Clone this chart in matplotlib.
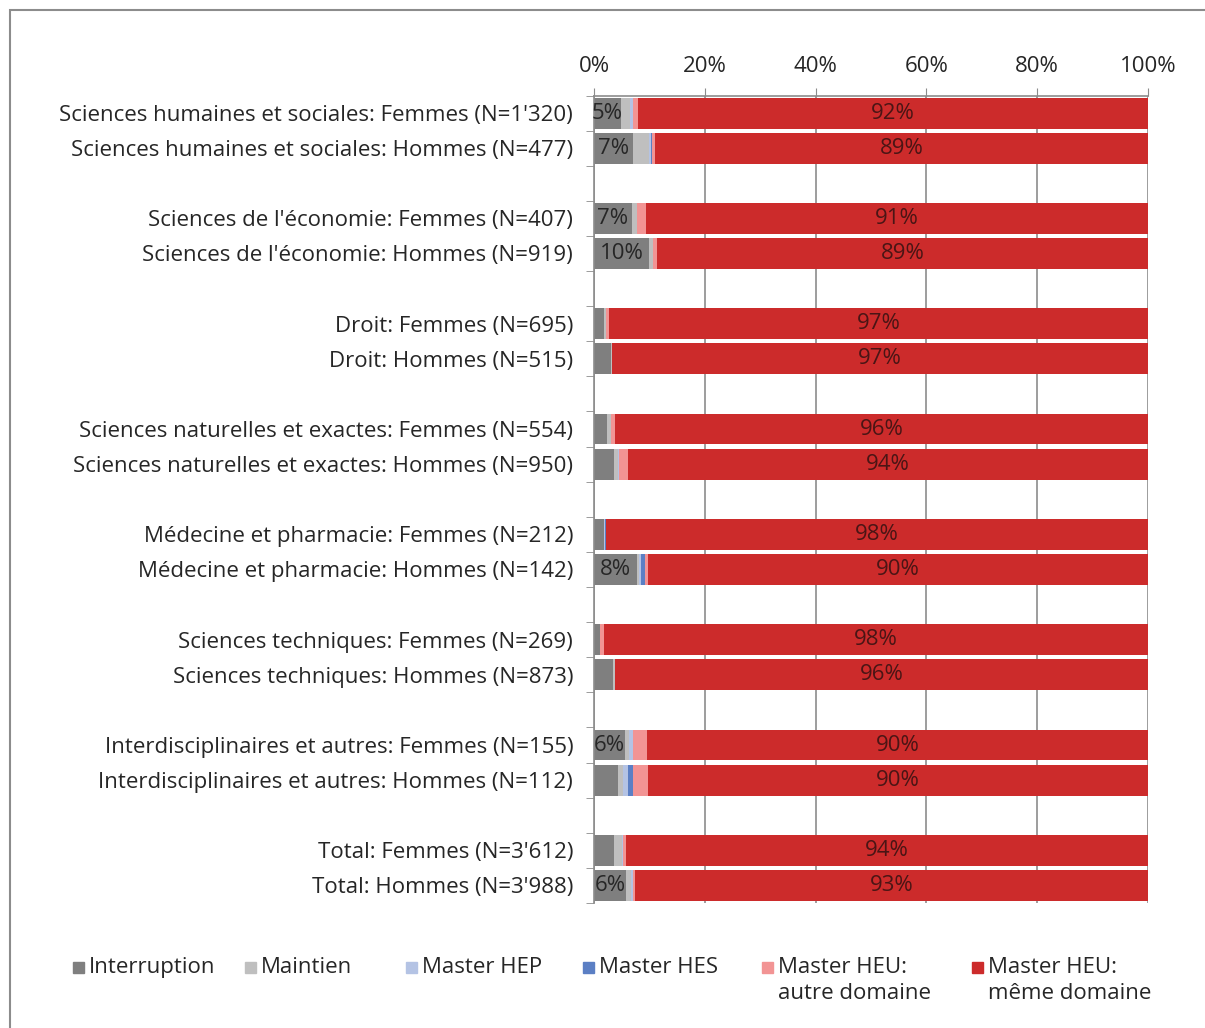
import matplotlib
matplotlib.use("Agg")
from matplotlib import pyplot as plt
from matplotlib.patches import Rectangle
import numpy as np

plt.rcParams['font.family'] = ['Open Sans', 'DejaVu Sans']

# categories, top to bottom ('' = empty spacer row)
labels = ["Sciences humaines et sociales: Femmes (N=1'320)",
          "Sciences humaines et sociales: Hommes (N=477)", "",
          "Sciences de l'économie: Femmes (N=407)",
          "Sciences de l'économie: Hommes (N=919)", "",
          "Droit: Femmes (N=695)",
          "Droit: Hommes (N=515)", "",
          "Sciences naturelles et exactes: Femmes (N=554)",
          "Sciences naturelles et exactes: Hommes (N=950)", "",
          "Médecine et pharmacie: Femmes (N=212)",
          "Médecine et pharmacie: Hommes (N=142)", "",
          "Sciences techniques: Femmes (N=269)",
          "Sciences techniques: Hommes (N=873)", "",
          "Interdisciplinaires et autres: Femmes (N=155)",
          "Interdisciplinaires et autres: Hommes (N=112)", "",
          "Total: Femmes (N=3'612)",
          "Total: Hommes (N=3'988)"]

interruption = [4.9, 7.1, 0, 6.8, 10.0, 0, 1.8, 3.0, 0, 2.4, 3.6, 0, 1.8, 7.7, 0, 1.1, 3.4, 0, 5.6, 4.4, 0, 3.6, 5.8]
maintien     = [1.6, 2.8, 0, 0.9, 0.7, 0, 0.3, 0.3, 0, 0.6, 0.8, 0, 0.0, 0.5, 0, 0.0, 0.4, 0, 0.8, 0.9, 0, 1.4, 0.8]
master_hep   = [0.5, 0.3, 0, 0.0, 0.0, 0, 0.0, 0.0, 0, 0.0, 0.2, 0, 0.1, 0.2, 0, 0.0, 0.0, 0, 0.7, 0.9, 0, 0.3, 0.4]
master_hes   = [0.1, 0.3, 0, 0.1, 0.0, 0, 0.0, 0.0, 0, 0.0, 0.0, 0, 0.2, 0.8, 0, 0.0, 0.0, 0, 0.0, 0.9, 0, 0.0, 0.0]
heu_autre    = [0.9, 0.5, 0, 1.6, 0.7, 0, 0.6, 0.0, 0, 0.8, 1.6, 0, 0.0, 0.6, 0, 0.7, 0.0, 0, 2.5, 2.7, 0, 0.5, 0.4]
heu_meme     = [92.0, 89.0, 0, 90.6, 88.6, 0, 97.3, 96.7, 0, 96.2, 93.8, 0, 97.9, 90.2, 0, 98.2, 96.2, 0, 90.4, 90.2, 0, 94.2, 92.6]

series = [("Interruption", interruption, '#7f7f7f'),
          ("Maintien", maintien, '#bfbfbf'),
          ("Master HEP", master_hep, '#b4c3e4'),
          ("Master HES", master_hes, '#5b7fc4'),
          ("Master HEU:\nautre domaine", heu_autre, '#f29494'),
          ("Master HEU:\nmême domaine", heu_meme, '#cc2b2b')]

FS = 16

fig = plt.figure(figsize=(12.05, 10.28), dpi=100)
ax = fig.add_axes([594 / 1205, 1 - 903 / 1028, (1148 - 594) / 1205, (903 - 95.5) / 1028])

y = np.arange(len(labels))
left = np.zeros(len(labels))
for name, vals, col in series:
    vals = np.array(vals)
    bars = ax.barh(y, vals, left=left, height=0.88, color=col, zorder=2)
    if name == "Interruption":
        for b, v in zip(bars, vals):
            if round(v) >= 5:
                ax.text(b.get_x() + b.get_width() / 2, b.get_y() + b.get_height() / 2,
                        f"{v:.0f}%", ha='center', va='center', fontsize=FS, color='#262626')
    if name.startswith("Master HEU:\nmême"):
        for b, v in zip(bars, vals):
            if v > 0:
                ax.text(b.get_x() + b.get_width() / 2, b.get_y() + b.get_height() / 2,
                        f"{v:.0f}%", ha='center', va='center', fontsize=FS, color='#4a1515')
    left += vals

ax.set_xlim(0, 100)
ax.set_ylim(len(labels) - 0.5, -0.5)
ax.xaxis.tick_top()
ax.set_xticks(range(0, 101, 20))
ax.set_xticklabels([f"{t}%" for t in range(0, 101, 20)], fontsize=FS, color='#262626')
ax.set_yticks(y)
ax.set_yticklabels(labels, fontsize=FS, color='#262626')
ax.set_yticks(np.arange(-0.5, len(labels), 1), minor=True)
ax.tick_params(axis='y', which='major', length=0, pad=15)
ax.tick_params(axis='y', which='minor', length=6, color='#8c8c8c', direction='out')
ax.tick_params(axis='x', length=6, color='#8c8c8c', pad=7)
ax.grid(axis='x', color='#8c8c8c', linewidth=1.2, zorder=0)
for s in ['right', 'bottom']:
    ax.spines[s].set_visible(False)
for s in ['left', 'top']:
    ax.spines[s].set_color('#8c8c8c')
    ax.spines[s].set_linewidth(1.2)

# legend, drawn by hand so the squares line up with the first text line
leg_x = [73, 245, 406, 583, 762, 972]
for (name, vals, col), lx in zip(series, leg_x):
    fig.patches.append(Rectangle((lx / 1205, 1 - 973 / 1028), 11 / 1205, 11 / 1028,
                                 transform=fig.transFigure, color=col))
    fig.text((lx + 16) / 1205, 1 - 957 / 1028, name, fontsize=FS, color='#262626',
             va='top', ha='left', linespacing=1.3)

# outer frame
fig.patches.append(Rectangle((10 / 1205, -0.1), 1.2, 1 - 10 / 1028 + 0.1,
                             transform=fig.transFigure, fill=False,
                             edgecolor='#8c8c8c', linewidth=1.5))

fig.savefig('out.png', dpi=100)
